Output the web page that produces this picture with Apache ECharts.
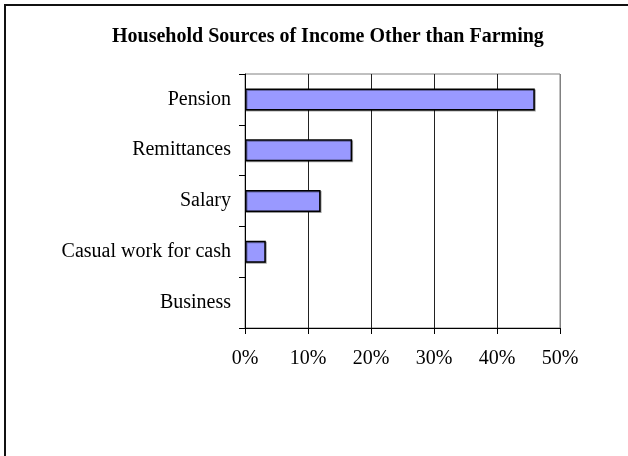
<!DOCTYPE html>
<html>
<head>
<meta charset="utf-8">
<script src="https://cdn.jsdelivr.net/npm/echarts@6/dist/echarts.min.js"></script>
<style>
  html, body { margin: 0; padding: 0; background: #fff; }
  #chart { width: 628px; height: 456px; }
</style>
</head>
<body>
<div id="chart"></div>
<script>
// Income sources (share of households, %)
const categories = ['Pension', 'Remittances', 'Salary', 'Casual work for cash', 'Business'];
const shares = [46, 17, 12, 3.3, 0];
const tickValues = [0, 10, 20, 30, 40, 50];

const serif = 'Liberation Serif, Times New Roman, serif';
const chart = echarts.init(document.getElementById('chart'), null, { renderer: 'canvas' });

// a zero-length bar draws nothing, not even its outline
const barData = shares.map(v => v === 0
  ? { value: v, itemStyle: { borderWidth: 0, shadowColor: 'transparent' } }
  : v);

chart.setOption({
  animation: false,
  backgroundColor: '#fff',
  title: {
    text: 'Household Sources of Income Other than Farming',
    left: 107,
    top: 22,
    textStyle: { fontFamily: serif, fontWeight: 'bold', fontSize: 20, color: '#000' }
  },
  graphic: [{
    type: 'rect',
    shape: { x: 5, y: 5, width: 700, height: 520 },
    style: { fill: 'none', stroke: '#111', lineWidth: 2 },
    silent: true
  }],
  grid: {
    left: 245, right: 68, top: 74, bottom: 128,
    show: true, borderColor: '#808080', borderWidth: 1,
    containLabel: false
  },
  xAxis: {
    type: 'value',
    min: tickValues[0],
    max: tickValues[tickValues.length - 1],
    interval: 10,
    axisLine: { show: true, lineStyle: { color: '#000', width: 1 } },
    axisTick: { show: true, length: 6, lineStyle: { color: '#000' } },
    axisLabel: {
      formatter: '{value}%', margin: 21,
      fontFamily: serif, fontSize: 20, color: '#000'
    },
    splitLine: {
      show: true,
      lineStyle: { color: ['#000', '#222', '#222', '#222', '#222', '#808080'], width: 1 }
    }
  },
  yAxis: {
    type: 'category',
    data: categories,
    inverse: true,
    axisLine: { show: true, lineStyle: { color: '#000', width: 1 } },
    axisTick: { show: true, length: 6, lineStyle: { color: '#000' } },
    axisLabel: { margin: 14, fontFamily: serif, fontSize: 20, color: '#000' },
    splitLine: { show: false }
  },
  series: [{
    type: 'bar',
    data: barData,
    barWidth: 22,
    itemStyle: {
      color: '#9999FF',
      borderColor: '#000',
      borderWidth: 1.5,
      shadowColor: 'rgba(0,0,0,0.35)',
      shadowOffsetX: 1,
      shadowOffsetY: 1
    }
  }]
});
</script>
</body>
</html>
